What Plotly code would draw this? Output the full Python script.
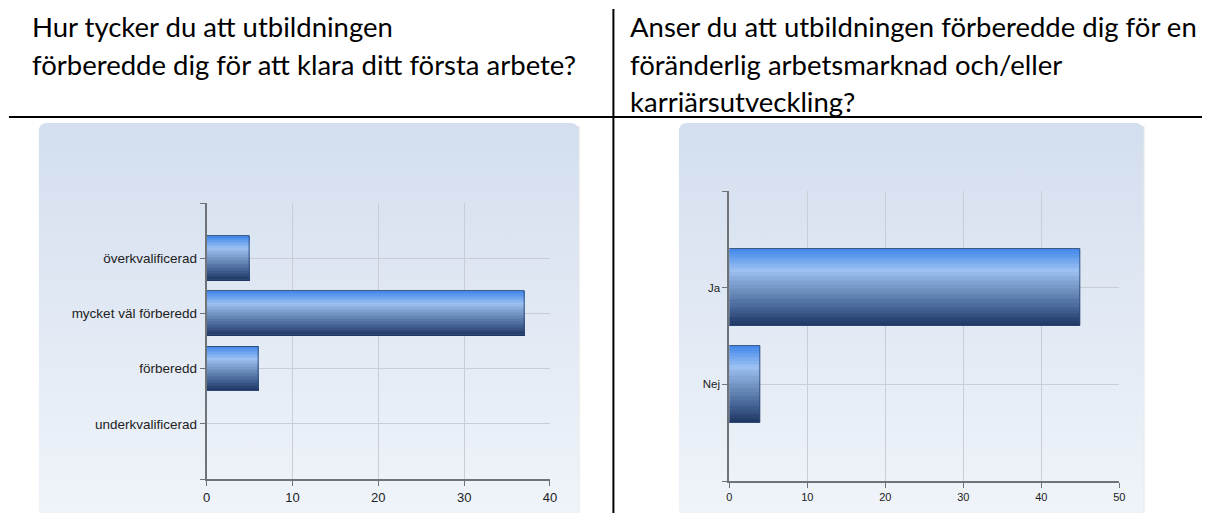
import base64
import plotly.graph_objects as go

# ---------------- data ----------------
left_categories = ["överkvalificerad", "mycket väl förberedd", "förberedd", "underkvalificerad"]
left_values = [5, 37, 6, 0]
left_xticks = [0, 10, 20, 30, 40]

right_categories = ["Ja", "Nej"]
right_values = [45, 4]
right_xticks = [0, 10, 20, 30, 40, 50]

left_title = ["Hur tycker du att utbildningen",
              "förberedde dig för att klara ditt första arbete?"]
right_title = ["Anser du att utbildningen förberedde dig för en",
               "föränderlig arbetsmarknad och/eller",
               "karriärsutveckling?"]

W, H = 1209, 513

# gradient stops for bars (top -> bottom)
grad_stops = [(0.0, (64, 134, 234)), (0.28, (156, 193, 242)), (0.5, (118, 150, 198)),
              (0.75, (72, 104, 154)), (1.0, (28, 52, 94))]


def grad_color(t):
    for (t0, c0), (t1, c1) in zip(grad_stops[:-1], grad_stops[1:]):
        if t0 <= t <= t1:
            f = (t - t0) / (t1 - t0) if t1 > t0 else 0
            c = [round(a + (b - a) * f) for a, b in zip(c0, c1)]
            return "rgb(%d,%d,%d)" % tuple(c)
    return "rgb(%d,%d,%d)" % grad_stops[-1][1]


def px_x(v):
    return v / W


def px_y(v):
    return 1 - v / H


fig = go.Figure()

N = 30
BW = 0.8


def add_bars(cats, vals, xa, ya):
    n = len(cats)
    pos = [n - 1 - i for i in range(n)]  # first category on top
    sw = BW / N
    for k in range(N):
        fig.add_trace(go.Bar(
            x=vals, y=pos, orientation="h", xaxis=xa, yaxis=ya,
            width=sw * 1.05, offset=BW / 2 - (k + 1) * sw,
            marker=dict(color=grad_color((k + 0.5) / N), line=dict(width=0)),
            showlegend=False, hoverinfo="skip"))
    # outline
    fig.add_trace(go.Bar(
        x=vals, y=pos, orientation="h", xaxis=xa, yaxis=ya,
        width=BW, offset=-BW / 2,
        marker=dict(color="rgba(0,0,0,0)",
                    line=dict(width=1, color=["rgba(45,75,120,0.9)" if v > 0 else "rgba(0,0,0,0)" for v in vals])),
        showlegend=False, hoverinfo="skip"))
    return pos


lpos = add_bars(left_categories, left_values, "x", "y")
rpos = add_bars(right_categories, right_values, "x2", "y2")

axis_common = dict(showline=True, linecolor="#6f7378", linewidth=2,
                   gridcolor="#c9ced6", gridwidth=1, zeroline=False,
                   ticks="outside", ticklen=5, tickcolor="#6f7378", fixedrange=True)

fig.update_layout(
    width=W, height=H, margin=dict(l=0, r=0, t=0, b=0),
    paper_bgcolor="white", plot_bgcolor="rgba(0,0,0,0)",
    barmode="overlay", bargap=0,
    xaxis=dict(domain=[px_x(204.5), px_x(551)], range=[0, 40], anchor="y",
               tickvals=left_xticks, tickfont=dict(family="Liberation Sans", size=13, color="#222"),
               **axis_common),
    yaxis=dict(domain=[px_y(479), px_y(203)], range=[-1, len(left_categories)], anchor="x",
               tickvals=[-1] + lpos + [len(left_categories)],
               ticktext=[""] + left_categories + [""],
               tickfont=dict(family="Liberation Sans", size=13.5, color="#222"),
               **axis_common),
    xaxis2=dict(domain=[px_x(732), px_x(1125.5)], range=[0, 50], anchor="y2",
                tickvals=right_xticks, tickfont=dict(family="Liberation Sans", size=11, color="#222"),
                **axis_common),
    yaxis2=dict(domain=[px_y(481), px_y(191)], range=[-1, len(right_categories)], anchor="x2",
                tickvals=[-1] + rpos + [len(right_categories)],
                ticktext=[""] + right_categories + [""],
                tickfont=dict(family="Liberation Sans", size=11.5, color="#222"),
                **axis_common),
)


def panel_svg(w, h):
    svg = f'''<svg xmlns="http://www.w3.org/2000/svg" width="{w}" height="{h}" viewBox="0 0 {w} {h}">
<defs>
<linearGradient id="g" x1="0" y1="0" x2="0" y2="1">
<stop offset="0" stop-color="#d3deee"/>
<stop offset="1" stop-color="#f1f5fa"/>
</linearGradient>
<linearGradient id="s" x1="0" y1="0" x2="1" y2="0">
<stop offset="0" stop-color="#9a9a9a" stop-opacity="0.9"/>
<stop offset="1" stop-color="#ffffff" stop-opacity="0"/>
</linearGradient>
</defs>
<rect x="{w-8}" y="3" width="6" height="{h+20}" rx="3" fill="url(#s)"/>
<rect x="0" y="0" width="{w-5}" height="{h+20}" rx="8" ry="8" fill="url(#g)"/>
</svg>'''
    return "data:image/svg+xml;base64," + base64.b64encode(svg.encode()).decode()


panels = [(35, 123, 585, 513), (681, 123, 1155, 513)]
images = []
for x0, y0, x1, y1 in panels:
    images.append(dict(source=panel_svg(x1 - x0, y1 - y0), xref="paper", yref="paper",
                       x=px_x(x0), y=px_y(y0), sizex=(x1 - x0) / W, sizey=(y1 - y0) / H,
                       xanchor="left", yanchor="top", sizing="stretch", layer="below"))
fig.update_layout(images=images)

# table lines
fig.add_shape(type="line", xref="paper", yref="paper", x0=px_x(615), x1=px_x(615),
              y0=px_y(9), y1=px_y(513), line=dict(color="black", width=2))
fig.add_shape(type="line", xref="paper", yref="paper", x0=px_x(5), x1=1,
              y0=px_y(117), y1=px_y(117), line=dict(color="black", width=2))

title_font = dict(family="Lato", size=27.5, color="#000")
for i, t in enumerate(left_title):
    fig.add_annotation(text=t, xref="paper", yref="paper", x=px_x(26), y=px_y(27 + 37 * i),
                       xanchor="left", yanchor="middle", showarrow=False, font=title_font)
for i, t in enumerate(right_title):
    fig.add_annotation(text=t, xref="paper", yref="paper", x=px_x(630), y=px_y(27 + 37 * i),
                       xanchor="left", yanchor="middle", showarrow=False, font=title_font)

fig.write_html("out.html", config={"displayModeBar": False},
               post_script="document.body.style.margin='0';document.body.style.overflow='hidden';")
